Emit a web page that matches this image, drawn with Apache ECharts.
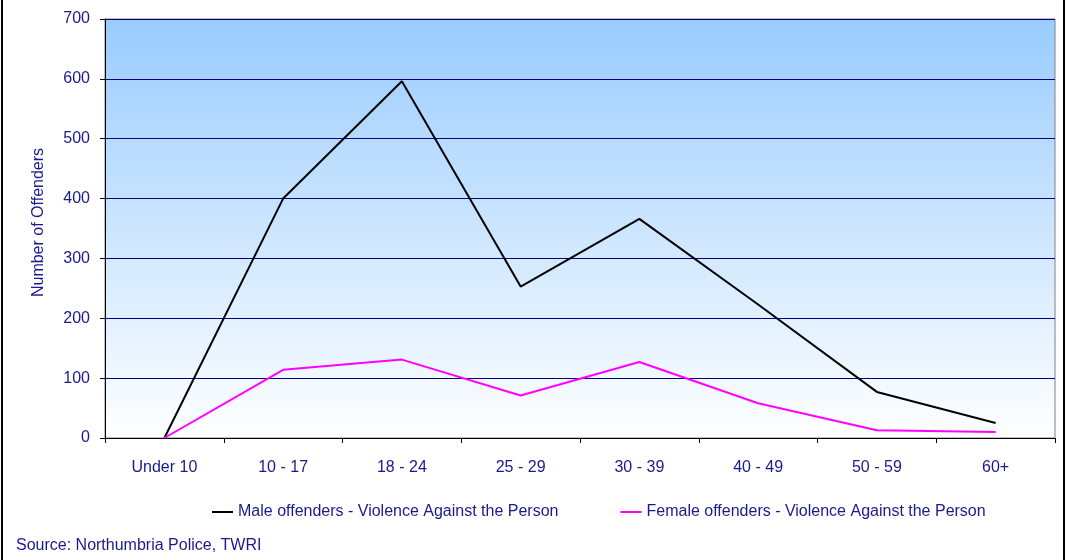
<!DOCTYPE html>
<html>
<head>
<meta charset="utf-8">
<script src="https://cdn.jsdelivr.net/npm/echarts@6/dist/echarts.min.js"></script>
<style>html,body{margin:0;padding:0;background:#fff}#c{width:1069px;height:560px}</style>
</head>
<body>
<div id="c"></div>
<script>
const categories = ['Under 10', '10 - 17', '18 - 24', '25 - 29', '30 - 39', '40 - 49', '50 - 59', '60+'];
const maleValues = [0, 400, 596, 253, 366, 223, 77, 25];
const femaleValues = [0, 114, 131, 71, 127, 58, 13, 10];
const yTicks = [0, 100, 200, 300, 400, 500, 600, 700];
const maleName = 'Male offenders - Violence Against the Person';
const femaleName = 'Female offenders - Violence Against the Person';

const navy = '#1a1a8c';
const font = '"Liberation Sans", Arial, sans-serif';
const fs = 16;
const chart = echarts.init(document.getElementById('c'));
chart.setOption({
  animation: false,
  backgroundColor: '#ffffff',
  textStyle: { fontFamily: font },
  title: {
    text: 'Source: Northumbria Police, TWRI',
    left: 16, top: 538,
    padding: 0,
    textStyle: { fontSize: fs, fontWeight: 'normal', color: navy, fontFamily: font }
  },
  legend: {
    left: 212, top: 504,
    padding: 0,
    itemWidth: 21, itemHeight: 2, itemGap: 62,
    icon: 'rect',
    textStyle: { fontSize: fs, color: navy, fontFamily: font },
    data: [maleName, femaleName]
  },
  grid: {
    left: 105, right: 14, top: 19, bottom: 122,
    show: true,
    borderColor: '#808080', borderWidth: 1,
    backgroundColor: new echarts.graphic.LinearGradient(0, 0, 0, 1, [
      { offset: 0, color: '#99ccff' },
      { offset: 1, color: '#ffffff' }
    ])
  },
  xAxis: {
    type: 'category',
    data: categories,
    boundaryGap: true,
    axisLine: { lineStyle: { color: '#000', width: 1 } },
    axisTick: { show: true, length: 5, lineStyle: { color: '#000' } },
    axisLabel: { fontSize: fs, color: navy, margin: 22, fontFamily: font },
    splitLine: { show: false }
  },
  yAxis: {
    type: 'value',
    min: yTicks[0], max: yTicks[yTicks.length - 1], interval: 100,
    name: 'Number of Offenders',
    nameLocation: 'middle', nameRotate: 90, nameGap: 58,
    nameTextStyle: { fontSize: fs, color: navy, fontFamily: font, padding: [0, 0, 0, 12] },
    axisLine: { show: true, lineStyle: { color: '#000', width: 1 } },
    axisTick: { show: true, length: 5, lineStyle: { color: '#000' } },
    axisLabel: { fontSize: fs, color: navy, margin: 15, fontFamily: font },
    splitLine: { show: true, lineStyle: { color: '#000080', width: 1 } }
  },
  series: [
    {
      name: maleName, type: 'line', data: maleValues,
      symbol: 'none', color: '#000000',
      lineStyle: { color: '#000000', width: 2 }
    },
    {
      name: femaleName, type: 'line', data: femaleValues,
      symbol: 'none', color: '#ff00ff',
      lineStyle: { color: '#ff00ff', width: 2 }
    }
  ],
  graphic: [
    { type: 'line', shape: { x1: 2, y1: 0, x2: 2, y2: 560 }, style: { stroke: '#000', lineWidth: 2 } },
    { type: 'line', shape: { x1: 1064, y1: 0, x2: 1064, y2: 560 }, style: { stroke: '#000', lineWidth: 2 } }
  ]
});
</script>
</body>
</html>
